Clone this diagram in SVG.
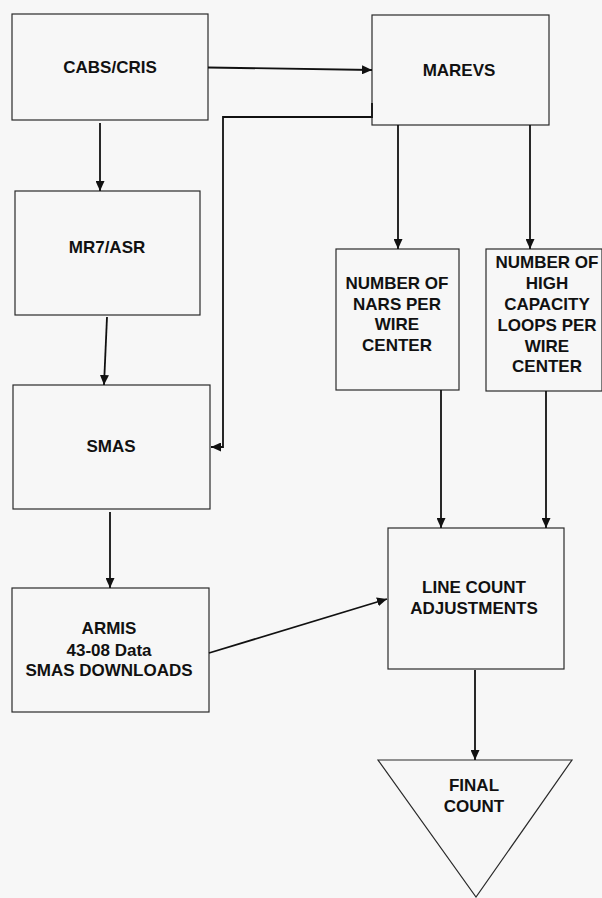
<svg xmlns="http://www.w3.org/2000/svg" width="602" height="898" viewBox="0 0 602 898">
<style>
.box{fill:#f7f7f7;stroke:#2a2a2a;stroke-width:1.2}
.t{font-family:"Liberation Sans",Arial,sans-serif;font-weight:bold;font-size:17px;fill:#111;text-anchor:middle}
.c{fill:none;stroke:#111;stroke-width:1.8}
</style>
<defs>
<marker id="ah" markerUnits="userSpaceOnUse" markerWidth="10" markerHeight="9" refX="10" refY="4.5" orient="auto">
<path d="M0,0 L10,4.5 L0,9 z" fill="#111"/>
</marker>
</defs>
<rect width="602" height="898" fill="#f7f7f7"/>
<g id="cabs"><rect class="box" x="12" y="14" width="196" height="106"/><text class="t" x="110" y="73">CABS/CRIS</text></g>
<g id="marevs"><rect class="box" x="372" y="15" width="177" height="110"/><text class="t" x="459" y="76">MAREVS</text></g>
<g id="mr7"><rect class="box" x="15" y="191" width="185" height="124"/><text class="t" x="107" y="253">MR7/ASR</text></g>
<g id="smas"><rect class="box" x="13" y="385" width="197" height="124"/><text class="t" x="111" y="452">SMAS</text></g>
<g id="armis"><rect class="box" x="12" y="588" width="197" height="124"/><text class="t" x="109" y="634">ARMIS</text><text class="t" x="109" y="656">43-08 Data</text><text class="t" x="109" y="676">SMAS DOWNLOADS</text></g>
<g id="nars"><rect class="box" x="336" y="249" width="123" height="141"/><text class="t" x="397" y="289">NUMBER OF</text><text class="t" x="397" y="309.5">NARS PER</text><text class="t" x="397" y="330">WIRE</text><text class="t" x="397" y="351">CENTER</text></g>
<g id="highcap"><rect class="box" x="486" y="249" width="116" height="142"/><text class="t" x="547" y="268">NUMBER OF</text><text class="t" x="547" y="289">HIGH</text><text class="t" x="547" y="310">CAPACITY</text><text class="t" x="547" y="331">LOOPS PER</text><text class="t" x="547" y="352">WIRE</text><text class="t" x="547" y="372">CENTER</text></g>
<g id="linecount"><rect class="box" x="388" y="528" width="176" height="141"/><text class="t" x="474" y="593">LINE COUNT</text><text class="t" x="474" y="614">ADJUSTMENTS</text></g>
<g id="final"><polygon class="box" points="378,760 572,760 476,897"/><text class="t" x="474" y="791">FINAL</text><text class="t" x="474" y="812">COUNT</text></g>
<g id="connectors">
<path class="c" d="M208,67.5 L372,70" marker-end="url(#ah)"/>
<path class="c" d="M100,123 V191" marker-end="url(#ah)"/>
<path class="c" d="M372,103 V117 H223 V447 H211" marker-end="url(#ah)"/>
<path class="c" d="M107,317 L104,385" marker-end="url(#ah)"/>
<path class="c" d="M110,512 V588" marker-end="url(#ah)"/>
<path class="c" d="M209,653 L387,599" marker-end="url(#ah)"/>
<path class="c" d="M398,125 V249" marker-end="url(#ah)"/>
<path class="c" d="M530,125 V249" marker-end="url(#ah)"/>
<path class="c" d="M441,390 V528" marker-end="url(#ah)"/>
<path class="c" d="M546,391 V528" marker-end="url(#ah)"/>
<path class="c" d="M475,670 V760" marker-end="url(#ah)"/>
</g>
</svg>
